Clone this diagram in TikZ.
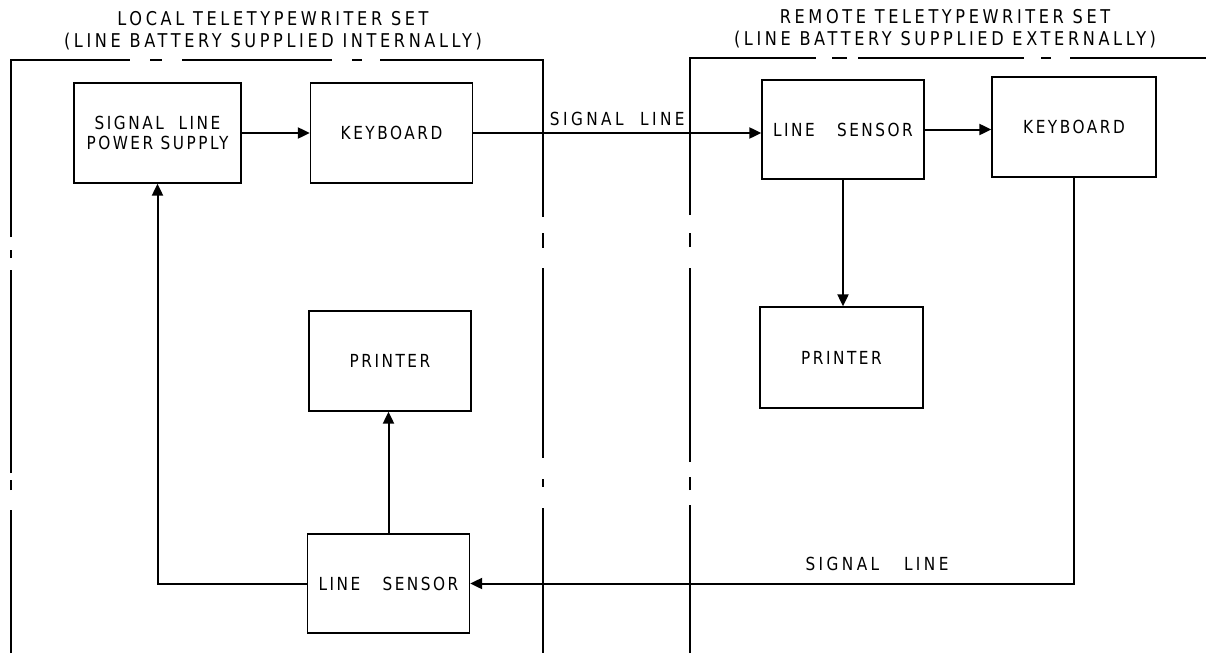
\documentclass[tikz,border=0pt]{standalone}
\usepackage{fontspec}
\newfontfamily\leroy{DejaVu Sans}[FakeStretch=0.85, LetterSpace=14]
\newfontfamily\leroywide{DejaVu Sans}[FakeStretch=0.85, LetterSpace=19]
\usetikzlibrary{arrows.meta}

\begin{document}
\begin{tikzpicture}[
    x=10pt, y=-10pt,
    box/.style={draw, line width=1.3pt, minimum width=162pt, minimum height=100pt,
                inner sep=0pt, align=center, font=\leroy\fontsize{18}{20.5}\selectfont},
    arrow/.style={-{Triangle[length=12pt, width=11pt]}, line width=2pt},
    frame/.style={line width=1.3pt},
    title/.style={align=center, font=\leroywide\fontsize{19}{22}\selectfont},
    lbl/.style={font=\leroywide\fontsize{18}{20.5}\selectfont, inner sep=0pt}
]
\useasboundingbox (0,0) rectangle (120.6,65.3);

% --- Local set (left) ---
\node[title] (loctitle) at (27.3,3.1)
    {LOCAL TELETYPEWRITER SET\\(LINE BATTERY SUPPLIED INTERNALLY)};
\draw[frame, dash pattern=on 143pt off 20pt on 10pt off 7pt on 203pt off 12pt on 8pt off 13pt
      on 296pt off 20pt on 12pt off 20pt on 150pt off 20pt on 10pt off 18pt
      on 320pt off 16pt on 15pt off 20pt on 190pt off 21pt on 8pt off 21pt on 200pt off 0pt]
    (1.1,65.3) -- (1.1,6.0) -- (54.3,6.0) -- (54.3,65.3);

\node[box, minimum width=167pt] (power) at (15.75,13.3) {SIGNAL~~LINE\\POWER SUPPLY};
\node[box] (keyL) at (39.15,13.3) {KEYBOARD};
\node[box] (printL) at (39.0,36.1) {PRINTER};
\node[box, minimum height=99pt] (sensL) at (38.85,58.35) {LINE~~~SENSOR};

% --- Remote set (right) ---
\node[title] (remtitle) at (94.5,2.9)
    {REMOTE TELETYPEWRITER SET\\(LINE BATTERY SUPPLIED EXTERNALLY)};
\draw[frame, dash pattern=on 148pt off 15pt on 13pt off 15pt on 194pt off 21pt on 14pt off 18pt
      on 283pt off 16pt on 15pt off 11pt on 166pt off 17pt on 10pt off 19pt on 200pt off 0pt]
    (69.0,65.3) -- (69.0,5.8) -- (120.6,5.8);

\node[box, minimum height=99pt] (sensR) at (84.3,12.95) {LINE~~~SENSOR};
\node[box, minimum width=164pt] (keyR) at (107.4,12.7) {KEYBOARD};
\node[box, minimum width=163pt, minimum height=101pt] (printR) at (84.15,35.75) {PRINTER};

% --- signal flow ---
\draw[arrow] (power.east) -- (keyL.west);
\draw[arrow] (keyL.east) -- (keyL.east -| sensR.west)
    node[lbl, midway, above=6pt] (sigtop) {SIGNAL~~LINE};
\draw[arrow] (sensR.east) -- (sensR.east -| keyR.west);
\draw[arrow] (sensR.south) -- (sensR.south |- printR.north);
\draw[arrow] (keyR.south) |- (sensL.east);
\node[lbl] (sigbot) at (87.7,56.4) {SIGNAL~~~LINE};
\draw[arrow] (sensL.north) -- (sensL.north |- printL.south);
\draw[arrow] (sensL.west) -| (power.south);

\end{tikzpicture}
\end{document}
